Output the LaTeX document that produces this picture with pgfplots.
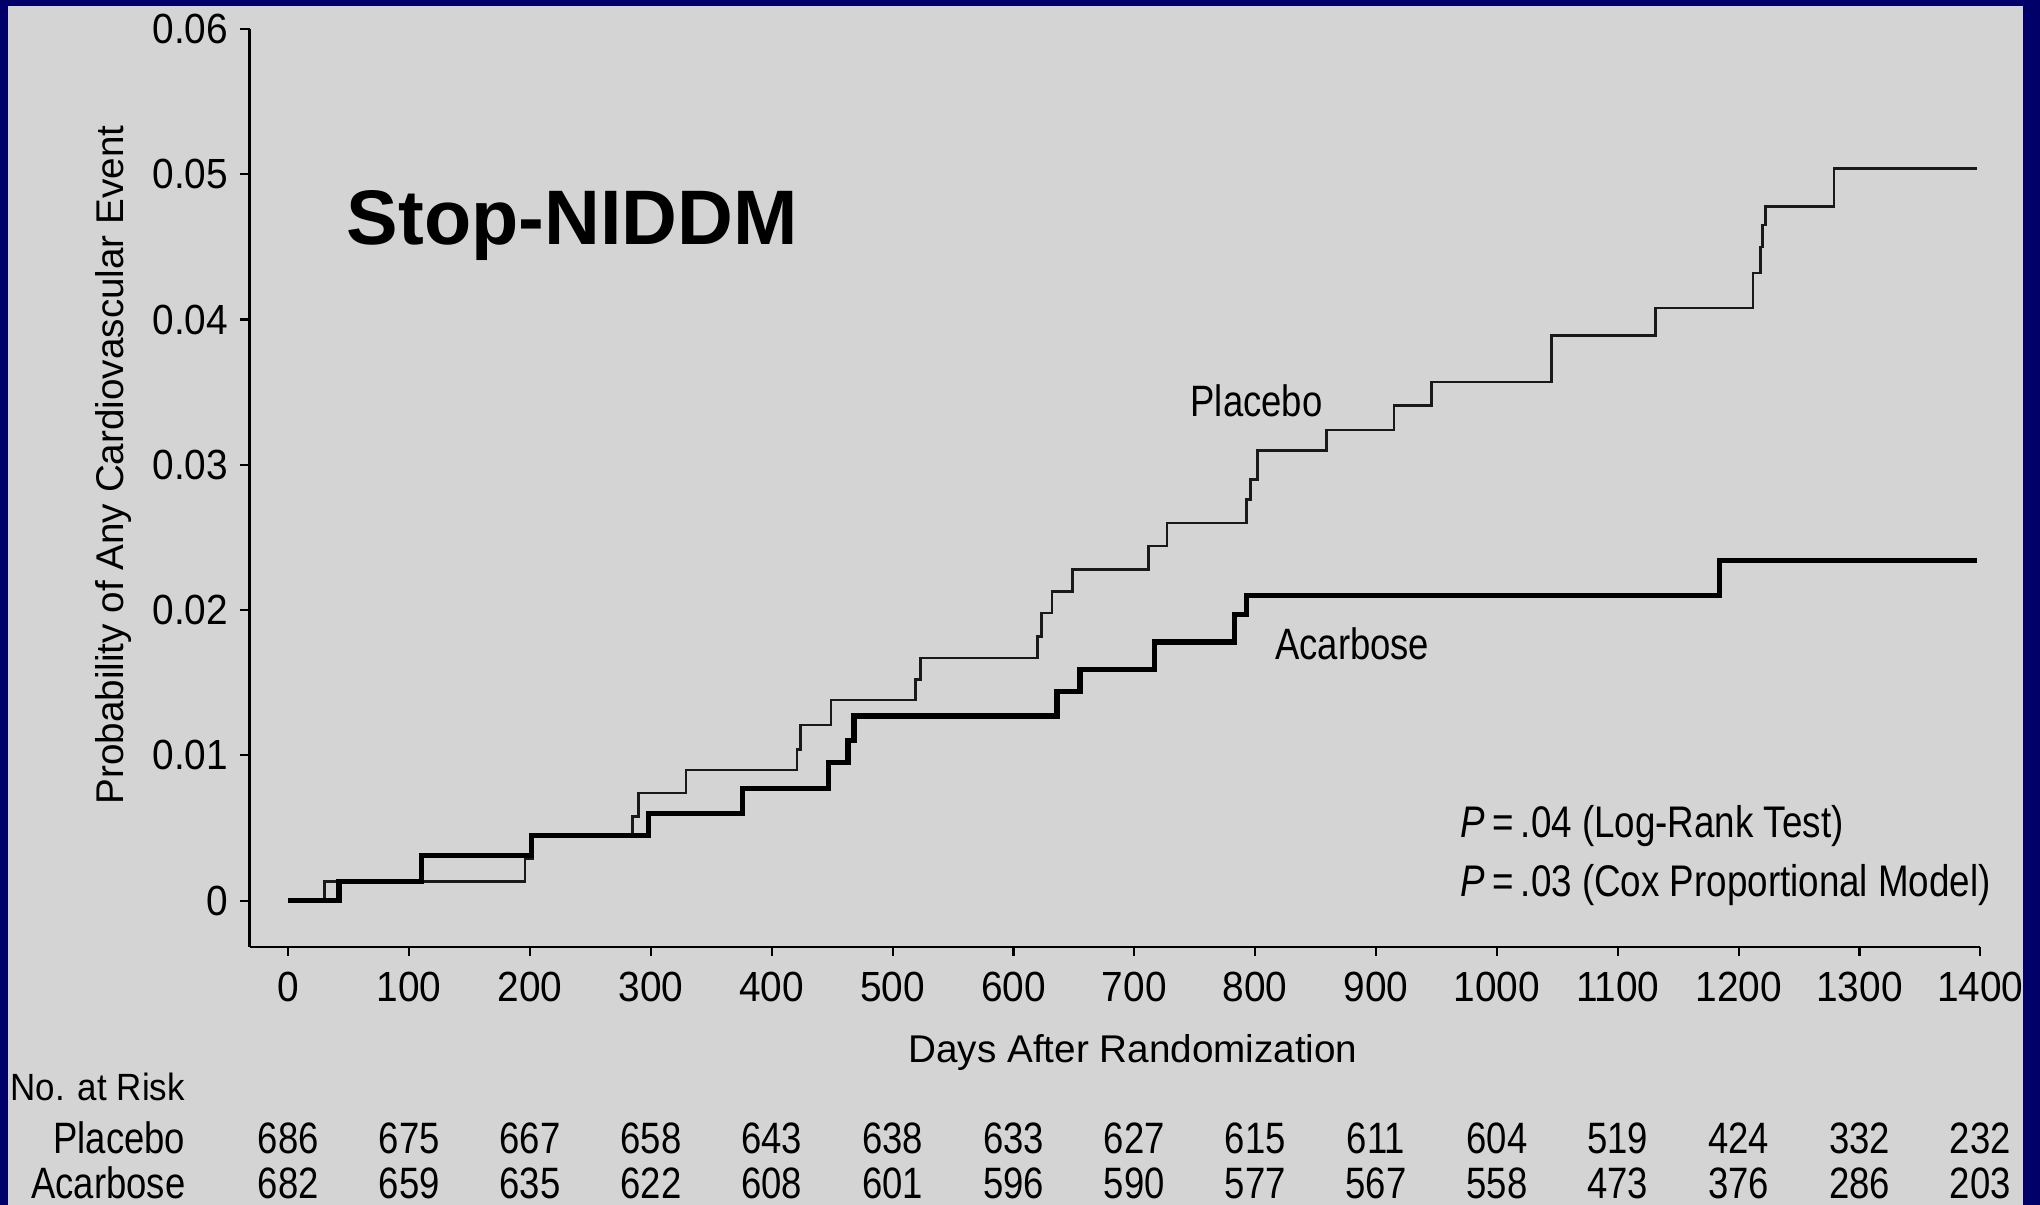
\documentclass[border=0pt]{standalone}
\usepackage{fontspec}
\setmainfont{Liberation Sans}
\newfontfamily\condfont[FakeStretch=0.83]{Liberation Sans}
\newfontfamily\semifont[FakeStretch=0.92]{Liberation Sans}
\usepackage{pgfplots}
\usepackage{pgfplotstable}
\pgfplotsset{compat=1.18}
\definecolor{bggray}{RGB}{212,212,212}
\definecolor{navy}{RGB}{0,0,104}

\pgfplotstableread{
day prob
0 0
30 0.0013
196 0.0029
202 0.0045
285 0.0058
290 0.0074
329 0.0090
421 0.0104
424 0.0121
449 0.0138
519 0.0152
523 0.0167
620 0.0182
623 0.0198
632 0.0213
649 0.0228
712 0.0244
727 0.0260
793 0.0276
796 0.0290
802 0.0310
859 0.0324
915 0.0341
946 0.0357
1045 0.0389
1131 0.0408
1212 0.0432
1218 0.0450
1220 0.0465
1222 0.0478
1279 0.0504
1397 0.0504
}\placebo

\pgfplotstableread{
day prob
0 0
42 0.0013
110 0.0031
201 0.0045
298 0.0060
376 0.0077
447 0.0095
463 0.0110
468 0.0127
636 0.0144
655 0.0159
717 0.0178
783 0.0197
793 0.0210
1184 0.0234
1397 0.0234
}\acarbose

\begin{document}
\begin{tikzpicture}
\useasboundingbox (0,0) rectangle (204mm,120.5mm);
\fill[bggray] (0,0) rectangle (204mm,120.5mm);
\begin{axis}[
  at={(24.95mm,25.8mm)}, anchor=south west,
  scale only axis, width=173.08mm, height=91.8mm,
  xmin=-32.1, xmax=1400, ymin=-0.00319, ymax=0.06,
  axis x line*=bottom, axis y line*=left,
  axis line style={-, line width=0.8pt, black},
  x axis line style={-}, y axis line style={-},
  xtick={0,100,...,1400},
  xticklabels={0,100,200,300,400,500,600,700,800,900,1000,1100,1200,1300,1400},
  ytick={0,0.01,0.02,0.03,0.04,0.05,0.06},
  yticklabels={0,0.01,0.02,0.03,0.04,0.05,0.06},
  scaled y ticks=false,
  tick align=outside, major tick length=0.9mm,
  tick style={black, line width=0.6pt},
  ticklabel style={font=\semifont\fontsize{12}{14}\selectfont},
  xticklabel style={yshift=-0.4mm},
  /pgf/number format/assume math mode=true,
  clip=false,
]
\addplot[const plot, line width=0.75pt, black!90] table[x=day,y=prob]{\placebo};
\addplot[const plot, line width=1.5pt, black] table[x=day,y=prob]{\acarbose};
\node[anchor=base west, inner sep=0pt, font=\condfont\fontsize{12.5}{14}\selectfont] at (axis cs:746,0.0333) {Placebo};
\node[anchor=base west, inner sep=0pt, font=\condfont\fontsize{12.5}{14}\selectfont] at (axis cs:816,0.0166) {Acarbose};
\node[anchor=base west, inner sep=0pt, font=\condfont\fontsize{12.6}{14}\selectfont] at (axis cs:969,0.00433) {\textit{P}\,=\,.04 (Log-Rank Test)};
\node[anchor=base west, inner sep=0pt, font=\condfont\fontsize{12.6}{14}\selectfont] at (axis cs:969,0.0003) {\textit{P}\,=\,.03 (Cox Proportional Model)};
\end{axis}
% title
\node[anchor=base west, inner sep=0pt, font=\bfseries\fontsize{22}{26}\selectfont] at (34.6mm,96.0mm) {Stop-NIDDM};
% axis labels
\node[rotate=90, anchor=base, inner sep=0pt, font=\fontsize{11}{13}\selectfont] at (12.3mm,74.0mm) {Probability of Any Cardiovascular Event};
\node[anchor=base, inner sep=0pt, font=\fontsize{11}{13}\selectfont] at (113.3mm,14.2mm) {Days After Randomization};
% risk table
\node[anchor=base west, inner sep=0pt, font=\semifont\fontsize{10.8}{12}\selectfont] at (1.0mm,10.45mm) {No. at Risk};
\node[anchor=base east, inner sep=0pt, font=\condfont\fontsize{12.5}{14}\selectfont] at (18.6mm,5.15mm) {Placebo};
\node[anchor=base east, inner sep=0pt, font=\condfont\fontsize{12.5}{14}\selectfont] at (18.6mm,0.6mm) {Acarbose};
\foreach \v [count=\i from 0] in {686,675,667,658,643,638,633,627,615,611,604,519,424,332,232}
  \node[anchor=base, inner sep=0pt, font=\condfont\fontsize{12.5}{14}\selectfont] at ({28.83mm+12.086mm*\i},5.15mm) {\v};
\foreach \v [count=\i from 0] in {682,659,635,622,608,601,596,590,577,567,558,473,376,286,203}
  \node[anchor=base, inner sep=0pt, font=\condfont\fontsize{12.5}{14}\selectfont] at ({28.83mm+12.086mm*\i},0.6mm) {\v};
% navy frame
\fill[navy] (0,0) rectangle (0.8mm,120.5mm);
\fill[navy] (0,119.85mm) rectangle (204mm,120.5mm);
\fill[navy] (202.3mm,0) rectangle (204mm,120.5mm);
\end{tikzpicture}
\end{document}
